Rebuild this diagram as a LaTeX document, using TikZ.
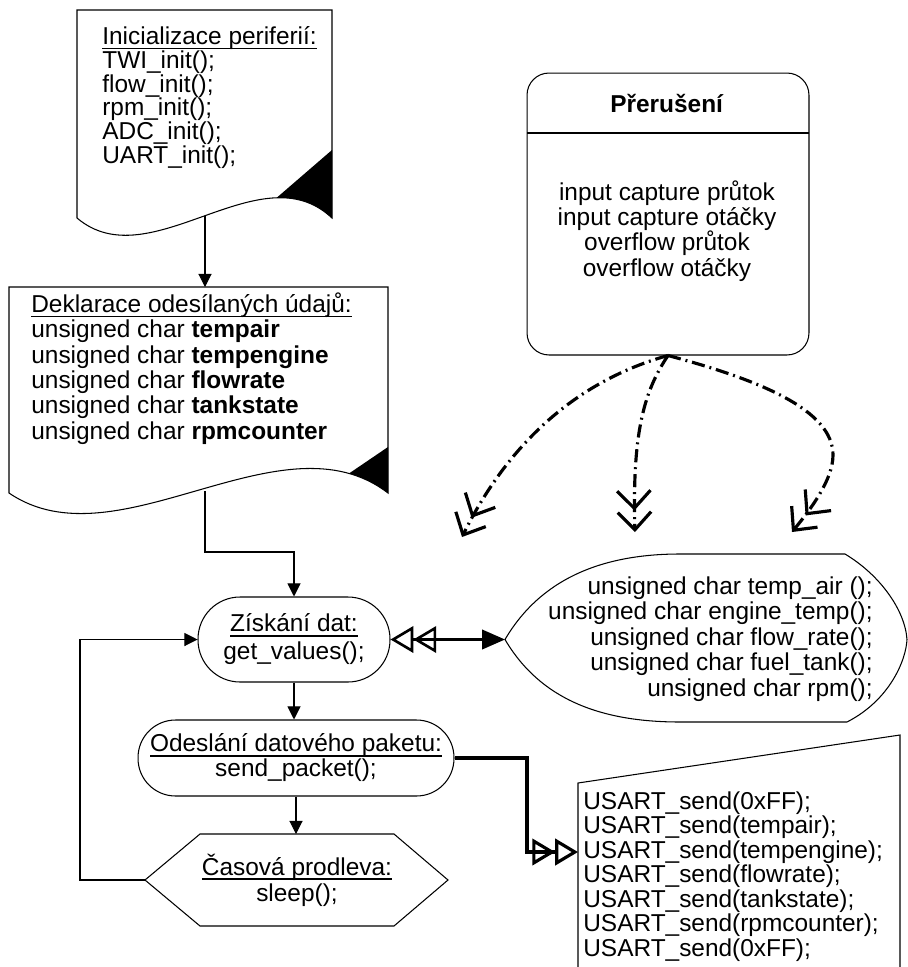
\documentclass[tikz,border=0pt]{standalone}
\usepackage{fontspec}
\setmainfont{Liberation Sans}
\usetikzlibrary{arrows.meta,calc}
\newsavebox\ulbox
\newcommand{\ulin}[1]{\sbox\ulbox{#1}\rlap{\rule[-2.6pt]{\wd\ulbox}{0.8pt}}\usebox\ulbox}
\begin{document}
\begin{tikzpicture}[x=0.02cm, y=-0.02cm,
  shapeline/.style={draw=black, line width=0.6pt},
  fs/.style={font=\fontsize{13.9pt}{#1}\selectfont},
  txt/.style={inner sep=0pt, align=left},
  flow/.style={line width=0.6pt, -{Triangle[length=7.5pt,width=7.5pt]}},
  irq/.style={line width=1.8pt, dash pattern=on 7.5pt off 2.8pt on 1.1pt off 2.8pt,
    -{Straight Barb[length=10pt,width=19pt] Straight Barb[length=10pt,width=19pt]}},
  fat/.style={line width=1.8pt,
    -{Triangle[open,length=13pt,width=15pt] Triangle[open,length=13pt,width=15pt]}},
  bidir/.style={line width=1.5pt,
    {Triangle[open,length=13pt,width=15pt] Triangle[open,length=13pt,width=15pt]}-{Triangle[length=13pt,width=11pt]}}]

\useasboundingbox (0,0) rectangle (908,967);
\clip (0,0) rectangle (908,967);

% --- document: peripheral initialisation
\draw[shapeline] (77,10) -- (332,10) -- (332,218) .. controls (260,150) and (150,280) .. (77,218) -- cycle;
\begin{scope}
  \clip (77,10) -- (332,10) -- (332,218) .. controls (260,150) and (150,280) .. (77,218) -- cycle;
  \fill (332,150) -- (266,207) -- (340,240) -- (340,150) -- cycle;
\end{scope}
\node[txt, fs=13.5pt, anchor=west] (init) at (102,97.5)
  {\ulin{Inicializace periferií:}\\TWI\_init();\\flow\_init();\\rpm\_init();\\ADC\_init();\\UART\_init();};

% --- document: declarations
\draw[shapeline] (9,287) -- (388,287) -- (388,493) .. controls (281,411) and (117.5,567) .. (9,493) -- cycle;
\begin{scope}
  \clip (9,287) -- (388,287) -- (388,493) .. controls (281,411) and (117.5,567) .. (9,493) -- cycle;
  \fill (388,447) -- (335,483) -- (396,520) -- (396,447) -- cycle;
\end{scope}
\node[txt, fs=14.4pt, anchor=west] (decl) at (31,368.5)
  {\ulin{Deklarace odesílaných údajů:}\\
   unsigned char \textbf{tempair}\\
   unsigned char \textbf{tempengine}\\
   unsigned char \textbf{flowrate}\\
   unsigned char \textbf{tankstate}\\
   unsigned char \textbf{rpmcounter}};

% --- interrupts box
\node[shapeline, rounded corners=0.44cm, minimum width=5.64cm, minimum height=5.64cm] (irqbox) at (668,214) {};
\draw[shapeline] (527,133) -- (809,133);
\node[txt, fs=14.4pt] (irqtitle) at (667,103) {\textbf{Přerušení}};
\node[txt, align=center, fs=14.4pt] (irqbody) at (667,231)
  {input capture průtok\\input capture otáčky\\overflow průtok\\overflow otáčky};

% --- process steps
\node[shapeline, rounded corners=0.84cm, minimum width=3.84cm, minimum height=1.7cm,
  inner sep=0pt, align=center, fs=15.9pt] (ziskani) at (294,639.5)
  {\ulin{Získání dat:}\\get\_values();};
\node[shapeline, rounded corners=0.75cm, minimum width=6.32cm, minimum height=1.52cm,
  inner sep=0pt, align=center, fs=14.2pt] (odesl) at (296,758)
  {\ulin{Odeslání datového paketu:}\\send\_packet();};
\draw[shapeline] (145,880) -- (200,834) -- (394,834) -- (448,880) -- (394,926) -- (200,926) -- cycle;
\coordinate (hexL) at (145,880);
\coordinate (hexT) at (297,834);
\node[txt, align=center, fs=14.7pt] (casova) at (297,880) {\ulin{Časová prodleva:}\\sleep();};

% --- display of sensor functions
\draw[shapeline] (505,639.5) .. controls (540,580) and (600,554) .. (680,554) -- (845,554)
  .. controls (880,575) and (905,610) .. (907,639.5)
  .. controls (906,660) and (890,700) .. (847,722) -- (680,722)
  .. controls (600,722) and (540,699) .. (505,639.5) -- cycle;
\coordinate (dispL) at (505,639.5);
\node[txt, align=right, fs=14.5pt, anchor=east] (funcs) at (873,639)
  {unsigned char temp\_air ();\\unsigned char engine\_temp();\\unsigned char flow\_rate();\\unsigned char fuel\_tank();\\unsigned char rpm();};

% --- manual input: packet contents
\draw[shapeline] (578,990) -- (578,783) -- (900,735) -- (900,990);
\coordinate (trapIn) at (578,852);
\node[txt, fs=13.9pt, anchor=west] (usart) at (583,876.5)
  {USART\_send(0xFF);\\USART\_send(tempair);\\USART\_send(tempengine);\\USART\_send(flowrate);\\USART\_send(tankstate);\\USART\_send(rpmcounter);\\USART\_send(0xFF);};

% --- connectors
\coordinate (d1out) at (205,216);
\coordinate (d2in) at (205,287);
\coordinate (d2out) at (205,491);
\coordinate (jogA) at (250,552);
\coordinate (loopC) at (80,760);
\coordinate (jogB) at (527,805);
\draw[flow] (d1out) -- (d2in);
\draw[flow] (d2out) |- (jogA) -| (ziskani.north);
\draw[flow] (ziskani.south) -- (ziskani.south |- odesl.north);
\draw[flow] (odesl.south) -- (odesl.south |- hexT);
\draw[flow] (hexL) -| (loopC) |- (ziskani.west);
\draw[bidir] (ziskani.east) -- (dispL);
\draw[fat] (odesl.east) -| (jogB) |- (trapIn);

\coordinate (irqL) at (462,537);
\coordinate (irqM) at (635,532);
\coordinate (irqR) at (792,532);
\draw[irq] (irqbox.south) .. controls (580,380) and (510,440) .. (irqL);
\draw[irq] (irqbox.south) .. controls (645,390) and (632,430) .. (irqM);
\draw[irq] (irqbox.south) .. controls (760,380) and (833,410) .. (833,455)
  .. controls (833,480) and (810,510) .. (irqR);
\end{tikzpicture}
\end{document}
